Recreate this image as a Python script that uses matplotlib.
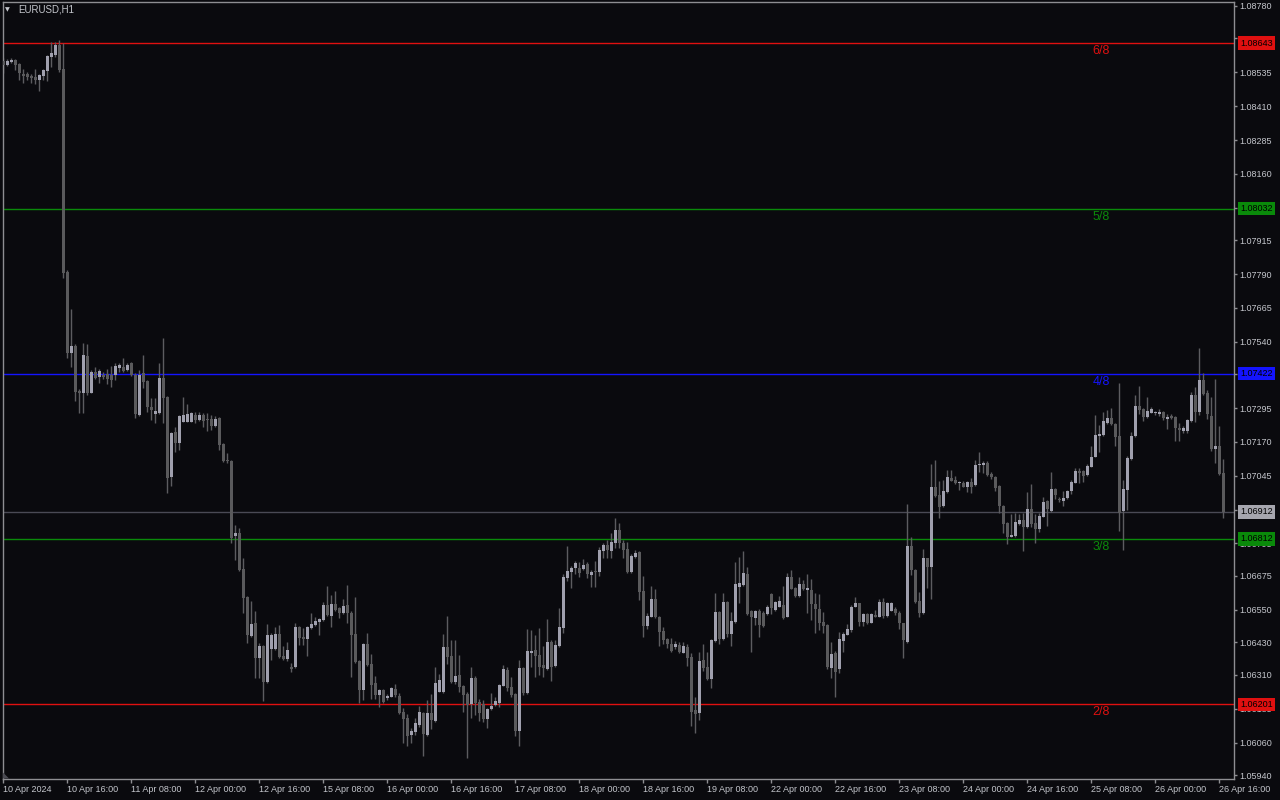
import matplotlib
matplotlib.use('Agg')
import matplotlib.pyplot as plt
import matplotlib.transforms as mtransforms
from matplotlib.patches import Polygon
import numpy as np

plt.rcParams['font.family'] = ['Liberation Sans', 'DejaVu Sans']

# ---------------- data (EURUSD H1, 10 Apr 00:00 -> 26 Apr 17:00) ----------------
symbol = 'EURUSD,H1'

opens = [
    1.08578, 1.08563, 1.08574, 1.08581, 1.08566, 1.08530, 1.08529, 1.08523, 1.08518, 1.08507, 1.08521, 1.08541, 1.08593, 1.08599, 1.08637, 1.08547,
    1.07798, 1.07500, 1.07524, 1.07359, 1.07350, 1.07487, 1.07352, 1.07428, 1.07411, 1.07418, 1.07421, 1.07417, 1.07417, 1.07443, 1.07448, 1.07436,
    1.07462, 1.07417, 1.07269, 1.07425, 1.07396, 1.07300, 1.07273, 1.07276, 1.07406, 1.07336, 1.07042, 1.07207, 1.07166, 1.07245, 1.07245, 1.07245,
    1.07269, 1.07251, 1.07271, 1.07251, 1.07255, 1.07229, 1.07258, 1.07162, 1.07103, 1.07100, 1.06823, 1.06834, 1.06701, 1.06597, 1.06453, 1.06501,
    1.06372, 1.06416, 1.06283, 1.06405, 1.06405, 1.06461, 1.06379, 1.06368, 1.06340, 1.06339, 1.06487, 1.06451, 1.06443, 1.06483, 1.06494, 1.06505,
    1.06512, 1.06568, 1.06527, 1.06571, 1.06557, 1.06538, 1.06568, 1.06539, 1.06461, 1.06361, 1.06254, 1.06424, 1.06350, 1.06280, 1.06235, 1.06254,
    1.06224, 1.06229, 1.06258, 1.06232, 1.06173, 1.06150, 1.06088, 1.06100, 1.06125, 1.06169, 1.06088, 1.06169, 1.06140, 1.06248, 1.06248, 1.06414,
    1.06381, 1.06283, 1.06309, 1.06269, 1.06239, 1.06202, 1.06299, 1.06211, 1.06202, 1.06147, 1.06183, 1.06197, 1.06205, 1.06270, 1.06328, 1.06264,
    1.06239, 1.06104, 1.06334, 1.06242, 1.06392, 1.06402, 1.06383, 1.06346, 1.06332, 1.06431, 1.06344, 1.06417, 1.06484, 1.06669, 1.06691, 1.06703,
    1.06703, 1.06701, 1.06719, 1.06679, 1.06694, 1.06691, 1.06768, 1.06788, 1.06768, 1.06798, 1.06845, 1.06798, 1.06773, 1.06689, 1.06746, 1.06764,
    1.06621, 1.06490, 1.06525, 1.06590, 1.06522, 1.06472, 1.06441, 1.06424, 1.06414, 1.06420, 1.06391, 1.06414, 1.06376, 1.06180, 1.06170, 1.06365,
    1.06340, 1.06294, 1.06436, 1.06542, 1.06442, 1.06579, 1.06460, 1.06506, 1.06633, 1.06642, 1.06682, 1.06546, 1.06521, 1.06546, 1.06539, 1.06535,
    1.06608, 1.06549, 1.06561, 1.06568, 1.06525, 1.06672, 1.06631, 1.06601, 1.06645, 1.06623, 1.06623, 1.06571, 1.06553, 1.06506, 1.06494, 1.06334,
    1.06389, 1.06332, 1.06436, 1.06458, 1.06475, 1.06561, 1.06574, 1.06506, 1.06535, 1.06502, 1.06531, 1.06525, 1.06578, 1.06527, 1.06547, 1.06552,
    1.06539, 1.06500, 1.06432, 1.06786, 1.06697, 1.06583, 1.06537, 1.06740, 1.06709, 1.07005, 1.06974, 1.06933, 1.06986, 1.07038, 1.07029, 1.07018,
    1.07019, 1.07005, 1.07023, 1.07011, 1.07084, 1.07086, 1.07093, 1.07050, 1.07042, 1.07007, 1.06933, 1.06872, 1.06820, 1.06823, 1.06867, 1.06882,
    1.06857, 1.06922, 1.06872, 1.06847, 1.06894, 1.06952, 1.06915, 1.06996, 1.06958, 1.06952, 1.06963, 1.06989, 1.07019, 1.07063, 1.07063, 1.07048,
    1.07079, 1.07115, 1.07192, 1.07196, 1.07239, 1.07257, 1.07236, 1.07192, 1.06914, 1.06992, 1.07106, 1.07192, 1.07304, 1.07292, 1.07261, 1.07278,
    1.07278, 1.07273, 1.07282, 1.07254, 1.07266, 1.07263, 1.07220, 1.07210, 1.07211, 1.07247, 1.07343, 1.07282, 1.07399, 1.07352, 1.07266, 1.07144,
    1.07155, 1.07054,
]
closes = [
    1.08563, 1.08577, 1.08582, 1.08563, 1.08534, 1.08523, 1.08519, 1.08515, 1.08507, 1.08524, 1.08544, 1.08595, 1.08608, 1.08637, 1.08544, 1.07795,
    1.07498, 1.07524, 1.07356, 1.07350, 1.07491, 1.07351, 1.07429, 1.07406, 1.07433, 1.07411, 1.07402, 1.07399, 1.07450, 1.07453, 1.07433, 1.07455,
    1.07417, 1.07273, 1.07416, 1.07392, 1.07300, 1.07288, 1.07285, 1.07406, 1.07332, 1.07038, 1.07203, 1.07166, 1.07266, 1.07269, 1.07273, 1.07278,
    1.07251, 1.07269, 1.07248, 1.07250, 1.07229, 1.07255, 1.07159, 1.07100, 1.07101, 1.06816, 1.06834, 1.06697, 1.06595, 1.06457, 1.06498, 1.06372,
    1.06417, 1.06284, 1.06457, 1.06457, 1.06461, 1.06377, 1.06368, 1.06402, 1.06332, 1.06487, 1.06446, 1.06442, 1.06487, 1.06498, 1.06509, 1.06516,
    1.06568, 1.06531, 1.06571, 1.06549, 1.06538, 1.06564, 1.06538, 1.06457, 1.06358, 1.06254, 1.06424, 1.06346, 1.06272, 1.06235, 1.06254, 1.06211,
    1.06232, 1.06261, 1.06235, 1.06170, 1.06147, 1.06084, 1.06104, 1.06132, 1.06173, 1.06091, 1.06170, 1.06143, 1.06281, 1.06291, 1.06414, 1.06377,
    1.06283, 1.06306, 1.06266, 1.06235, 1.06198, 1.06299, 1.06206, 1.06169, 1.06147, 1.06184, 1.06196, 1.06214, 1.06272, 1.06331, 1.06260, 1.06235,
    1.06104, 1.06336, 1.06242, 1.06398, 1.06399, 1.06379, 1.06340, 1.06336, 1.06431, 1.06340, 1.06420, 1.06488, 1.06672, 1.06693, 1.06706, 1.06724,
    1.06687, 1.06715, 1.06682, 1.06691, 1.06691, 1.06771, 1.06790, 1.06771, 1.06800, 1.06845, 1.06798, 1.06771, 1.06691, 1.06749, 1.06761, 1.06617,
    1.06490, 1.06527, 1.06590, 1.06522, 1.06469, 1.06438, 1.06423, 1.06399, 1.06424, 1.06393, 1.06416, 1.06373, 1.06174, 1.06165, 1.06361, 1.06334,
    1.06294, 1.06438, 1.06542, 1.06442, 1.06579, 1.06460, 1.06509, 1.06645, 1.06650, 1.06687, 1.06535, 1.06525, 1.06546, 1.06494, 1.06490, 1.06561,
    1.06556, 1.06579, 1.06583, 1.06519, 1.06672, 1.06628, 1.06601, 1.06645, 1.06626, 1.06631, 1.06571, 1.06553, 1.06502, 1.06490, 1.06338, 1.06387,
    1.06321, 1.06441, 1.06461, 1.06478, 1.06561, 1.06574, 1.06506, 1.06535, 1.06500, 1.06535, 1.06525, 1.06578, 1.06527, 1.06574, 1.06574, 1.06539,
    1.06500, 1.06438, 1.06786, 1.06697, 1.06580, 1.06537, 1.06740, 1.06709, 1.07005, 1.06970, 1.06931, 1.06989, 1.07042, 1.07027, 1.07017, 1.07019,
    1.07005, 1.07023, 1.07005, 1.07085, 1.07089, 1.07093, 1.07048, 1.07042, 1.06999, 1.06933, 1.06867, 1.06820, 1.06827, 1.06875, 1.06882, 1.06857,
    1.06922, 1.06867, 1.06847, 1.06896, 1.06949, 1.06921, 1.06996, 1.06974, 1.06957, 1.06963, 1.06989, 1.07023, 1.07063, 1.07054, 1.07044, 1.07081,
    1.07115, 1.07196, 1.07199, 1.07247, 1.07257, 1.07235, 1.07187, 1.06909, 1.06997, 1.07112, 1.07192, 1.07304, 1.07288, 1.07261, 1.07285, 1.07293,
    1.07279, 1.07282, 1.07257, 1.07263, 1.07257, 1.07220, 1.07214, 1.07223, 1.07251, 1.07343, 1.07282, 1.07399, 1.07347, 1.07273, 1.07144, 1.07155,
    1.07052, 1.06912,
]
highs = [
    1.08588, 1.08584, 1.08588, 1.08584, 1.08569, 1.08547, 1.08537, 1.08529, 1.08547, 1.08529, 1.08547, 1.08599, 1.08648, 1.08648, 1.08654, 1.08642,
    1.07805, 1.07661, 1.07532, 1.07365, 1.07535, 1.07532, 1.07436, 1.07446, 1.07439, 1.07428, 1.07438, 1.07450, 1.07463, 1.07463, 1.07480, 1.07462,
    1.07465, 1.07425, 1.07436, 1.07491, 1.07399, 1.07332, 1.07332, 1.07463, 1.07554, 1.07340, 1.07207, 1.07225, 1.07269, 1.07336, 1.07310, 1.07281,
    1.07282, 1.07282, 1.07277, 1.07277, 1.07269, 1.07266, 1.07262, 1.07166, 1.07129, 1.07103, 1.06863, 1.06852, 1.06741, 1.06601, 1.06584, 1.06547,
    1.06427, 1.06420, 1.06498, 1.06464, 1.06487, 1.06494, 1.06416, 1.06432, 1.06355, 1.06501, 1.06490, 1.06483, 1.06490, 1.06538, 1.06525, 1.06520,
    1.06580, 1.06638, 1.06605, 1.06621, 1.06560, 1.06590, 1.06642, 1.06546, 1.06597, 1.06365, 1.06427, 1.06463, 1.06387, 1.06306, 1.06258, 1.06258,
    1.06239, 1.06266, 1.06276, 1.06242, 1.06186, 1.06165, 1.06112, 1.06149, 1.06195, 1.06173, 1.06217, 1.06239, 1.06340, 1.06313, 1.06461, 1.06527,
    1.06438, 1.06438, 1.06383, 1.06272, 1.06248, 1.06340, 1.06306, 1.06219, 1.06217, 1.06187, 1.06244, 1.06229, 1.06276, 1.06346, 1.06340, 1.06303,
    1.06243, 1.06365, 1.06339, 1.06479, 1.06475, 1.06457, 1.06483, 1.06416, 1.06516, 1.06438, 1.06438, 1.06557, 1.06682, 1.06786, 1.06712, 1.06730,
    1.06727, 1.06737, 1.06728, 1.06697, 1.06730, 1.06783, 1.06798, 1.06808, 1.06835, 1.06888, 1.06871, 1.06808, 1.06802, 1.06756, 1.06771, 1.06767,
    1.06675, 1.06537, 1.06638, 1.06626, 1.06527, 1.06485, 1.06446, 1.06445, 1.06436, 1.06432, 1.06432, 1.06424, 1.06389, 1.06229, 1.06394, 1.06423,
    1.06395, 1.06442, 1.06613, 1.06546, 1.06611, 1.06583, 1.06543, 1.06728, 1.06746, 1.06768, 1.06709, 1.06549, 1.06549, 1.06553, 1.06546, 1.06568,
    1.06613, 1.06583, 1.06601, 1.06639, 1.06685, 1.06697, 1.06635, 1.06672, 1.06660, 1.06682, 1.06663, 1.06611, 1.06608, 1.06543, 1.06498, 1.06432,
    1.06399, 1.06469, 1.06469, 1.06498, 1.06568, 1.06598, 1.06577, 1.06539, 1.06538, 1.06538, 1.06549, 1.06589, 1.06593, 1.06579, 1.06580, 1.06561,
    1.06544, 1.06503, 1.06941, 1.06818, 1.06701, 1.06616, 1.06773, 1.06743, 1.07089, 1.07103, 1.07027, 1.07029, 1.07066, 1.07066, 1.07044, 1.07026,
    1.07024, 1.07026, 1.07036, 1.07103, 1.07134, 1.07101, 1.07101, 1.07060, 1.07044, 1.07011, 1.06937, 1.06874, 1.06904, 1.06906, 1.06904, 1.06906,
    1.06986, 1.07015, 1.06904, 1.06906, 1.06966, 1.06956, 1.07060, 1.07000, 1.06966, 1.06990, 1.06992, 1.07029, 1.07075, 1.07075, 1.07066, 1.07087,
    1.07155, 1.07269, 1.07233, 1.07282, 1.07288, 1.07294, 1.07240, 1.07389, 1.07029, 1.07118, 1.07208, 1.07343, 1.07377, 1.07295, 1.07335, 1.07300,
    1.07285, 1.07291, 1.07284, 1.07273, 1.07273, 1.07266, 1.07239, 1.07229, 1.07255, 1.07356, 1.07374, 1.07516, 1.07423, 1.07362, 1.07337, 1.07401,
    1.07229, 1.07107,
]
lows = [
    1.08533, 1.08558, 1.08568, 1.08544, 1.08507, 1.08497, 1.08507, 1.08496, 1.08492, 1.08467, 1.08507, 1.08504, 1.08556, 1.08593, 1.08536, 1.07775,
    1.07480, 1.07447, 1.07322, 1.07277, 1.07278, 1.07343, 1.07349, 1.07401, 1.07389, 1.07401, 1.07384, 1.07373, 1.07399, 1.07429, 1.07428, 1.07432,
    1.07414, 1.07258, 1.07266, 1.07369, 1.07282, 1.07251, 1.07240, 1.07273, 1.07240, 1.06981, 1.07007, 1.07133, 1.07140, 1.07242, 1.07242, 1.07242,
    1.07239, 1.07247, 1.07226, 1.07211, 1.07214, 1.07225, 1.07140, 1.07096, 1.07093, 1.06797, 1.06734, 1.06693, 1.06538, 1.06427, 1.06450, 1.06298,
    1.06298, 1.06214, 1.06280, 1.06365, 1.06402, 1.06372, 1.06365, 1.06361, 1.06321, 1.06335, 1.06420, 1.06420, 1.06379, 1.06479, 1.06490, 1.06457,
    1.06509, 1.06527, 1.06488, 1.06546, 1.06519, 1.06535, 1.06500, 1.06303, 1.06355, 1.06207, 1.06217, 1.06342, 1.06221, 1.06221, 1.06192, 1.06206,
    1.06217, 1.06228, 1.06229, 1.06165, 1.06059, 1.06048, 1.06059, 1.06088, 1.06118, 1.06010, 1.06084, 1.06110, 1.06136, 1.06246, 1.06243, 1.06350,
    1.06280, 1.06275, 1.06248, 1.06174, 1.06002, 1.06150, 1.06162, 1.06140, 1.06137, 1.06114, 1.06180, 1.06195, 1.06192, 1.06269, 1.06251, 1.06229,
    1.06084, 1.06047, 1.06235, 1.06239, 1.06340, 1.06303, 1.06309, 1.06303, 1.06328, 1.06287, 1.06340, 1.06414, 1.06465, 1.06657, 1.06632, 1.06682,
    1.06672, 1.06697, 1.06667, 1.06633, 1.06633, 1.06675, 1.06740, 1.06740, 1.06740, 1.06777, 1.06777, 1.06740, 1.06687, 1.06687, 1.06743, 1.06586,
    1.06451, 1.06479, 1.06522, 1.06519, 1.06416, 1.06423, 1.06408, 1.06396, 1.06404, 1.06391, 1.06389, 1.06342, 1.06121, 1.06094, 1.06143, 1.06325,
    1.06291, 1.06260, 1.06433, 1.06423, 1.06438, 1.06450, 1.06417, 1.06503, 1.06576, 1.06638, 1.06531, 1.06393, 1.06494, 1.06450, 1.06485, 1.06531,
    1.06535, 1.06546, 1.06559, 1.06516, 1.06522, 1.06626, 1.06597, 1.06597, 1.06623, 1.06538, 1.06512, 1.06464, 1.06475, 1.06463, 1.06332, 1.06298,
    1.06229, 1.06316, 1.06395, 1.06456, 1.06469, 1.06559, 1.06490, 1.06490, 1.06498, 1.06500, 1.06522, 1.06522, 1.06519, 1.06523, 1.06544, 1.06531,
    1.06479, 1.06371, 1.06429, 1.06679, 1.06577, 1.06522, 1.06535, 1.06629, 1.06589, 1.06967, 1.06888, 1.06930, 1.06983, 1.07024, 1.07015, 1.06992,
    1.07002, 1.06986, 1.06983, 1.07007, 1.07060, 1.07056, 1.07044, 1.07032, 1.06990, 1.06909, 1.06835, 1.06793, 1.06818, 1.06820, 1.06863, 1.06768,
    1.06854, 1.06855, 1.06798, 1.06838, 1.06892, 1.06860, 1.06912, 1.06958, 1.06949, 1.06933, 1.06958, 1.06978, 1.07017, 1.07019, 1.07023, 1.07044,
    1.07076, 1.07113, 1.07134, 1.07193, 1.07236, 1.07233, 1.07155, 1.06842, 1.06771, 1.06919, 1.07103, 1.07190, 1.07273, 1.07248, 1.07258, 1.07276,
    1.07269, 1.07266, 1.07251, 1.07217, 1.07254, 1.07175, 1.07175, 1.07202, 1.07204, 1.07245, 1.07245, 1.07269, 1.07343, 1.07254, 1.07138, 1.07091,
    1.07048, 1.06888,
]

# one time label every 16 bars
time_labels = ['10 Apr 2024', '10 Apr 16:00', '11 Apr 08:00', '12 Apr 00:00', '12 Apr 16:00',
               '15 Apr 08:00', '16 Apr 00:00', '16 Apr 16:00', '17 Apr 08:00', '18 Apr 00:00',
               '18 Apr 16:00', '19 Apr 08:00', '22 Apr 00:00', '22 Apr 16:00', '23 Apr 08:00',
               '24 Apr 00:00', '24 Apr 16:00', '25 Apr 08:00', '26 Apr 00:00', '26 Apr 16:00']

price_ticks = [1.08780, 1.08660, 1.08535, 1.08410, 1.08285, 1.08160, 1.08035, 1.07915,
               1.07790, 1.07665, 1.07540, 1.07420, 1.07295, 1.07170, 1.07045, 1.06920,
               1.06795, 1.06675, 1.06550, 1.06430, 1.06310, 1.06185, 1.06060, 1.05940]

# Murrey math levels
level_values = [1.08643, 1.08032, 1.07422, 1.06812, 1.06201]
level_names = ['6/8', '5/8', '4/8', '3/8', '2/8']
level_colors = ['#e01010', '#0a8a0a', '#1414ff', '#0a8a0a', '#e01010']

last_price = 1.06912

# ---------------- style ----------------
bg = '#0a0a0e'
bull_color = '#a0a0ae'
bear_color = '#5a5a5c'
wick_color = '#5c5c60'
frame_color = '#8e8e92'
text_color = '#c4c6cc'

W, H = 1280, 800
fig = plt.figure(figsize=(W / 100, H / 100), dpi=100, facecolor=bg)
ax = fig.add_axes([2.5 / W, 21.5 / H, (1233.5 - 2.5) / W, 777 / H])
ax.set_facecolor(bg)

o = np.array(opens)
c = np.array(closes)
h = np.array(highs)
l = np.array(lows)
x = np.arange(len(c))
up = c >= o

# wicks then bodies
ax.vlines(x, l, h, color=wick_color, lw=1, zorder=2)
body_low = np.minimum(o, c)
body_h = np.maximum(np.abs(c - o), 0.00004)
ax.bar(x[up], body_h[up], bottom=body_low[up], width=0.72, color=bull_color, lw=0, zorder=3)
ax.bar(x[~up], body_h[~up], bottom=body_low[~up], width=0.72, color=bear_color, lw=0, zorder=3)

# horizontal levels
for val, name, col in zip(level_values, level_names, level_colors):
    ax.axhline(val, color=col, lw=1, zorder=1)
    ax.annotate(name, xy=(274.4, val), xytext=(0, -2), textcoords='offset pixels',
                ha='center', va='top', color=col, fontsize=9, zorder=4)
ax.axhline(last_price, color='#4a4a55', lw=1, zorder=1)

# axes limits so that 1.08780 sits at y=6px and 1.05940 at y=775px
ax.set_ylim(1.059271, 1.087966)
ax.set_xlim(-0.2, 307.55)

for sp in ax.spines.values():
    sp.set_color(frame_color)
    sp.set_linewidth(1)

ax.yaxis.tick_right()
ax.set_yticks(price_ticks)
ax.set_yticklabels([f'{p:.5f}' for p in price_ticks])
ax.tick_params(axis='y', colors=frame_color, labelcolor=text_color, labelsize=6.5,
               length=2.2, width=1, pad=2.2, direction='out')

ax.set_xticks(x[::16])
ax.set_xticklabels(time_labels, ha='left')
ax.tick_params(axis='x', colors=frame_color, labelcolor=text_color, labelsize=6.5,
               length=3, width=1, pad=1.5, direction='out')

# price boxes on the right scale
trans = mtransforms.blended_transform_factory(ax.transAxes, ax.transData)
boxes = list(zip(level_values, level_colors)) + [(last_price, '#a6a6ae')]
for val, col in boxes:
    ax.annotate(f'{val:.5f}', xy=(1, val), xycoords=trans, xytext=(6.5, 0),
                textcoords='offset pixels', ha='left', va='center', color='black',
                fontsize=6.5, annotation_clip=False, zorder=10,
                bbox=dict(boxstyle='square,pad=0.25', fc=col, ec='none'))

# chart shift marker in the bottom-left corner
fig.patches.append(Polygon([[3 / W, 21.5 / H], [9 / W, 21.5 / H], [3 / W, 27.5 / H]],
                           closed=True, fc='#4a4a52', ec='none', transform=fig.transFigure))

# symbol caption
fig.text(5 / W, 1 - 10 / H, '\u25BC', color=text_color, fontsize=4.5, va='center', ha='left',
         family=['DejaVu Sans'])
fig.text(18 / W, 1 - 10 / H, symbol, color=text_color, fontsize=7, va='center', ha='left')

fig.savefig('out.png', dpi=100, facecolor=bg)
